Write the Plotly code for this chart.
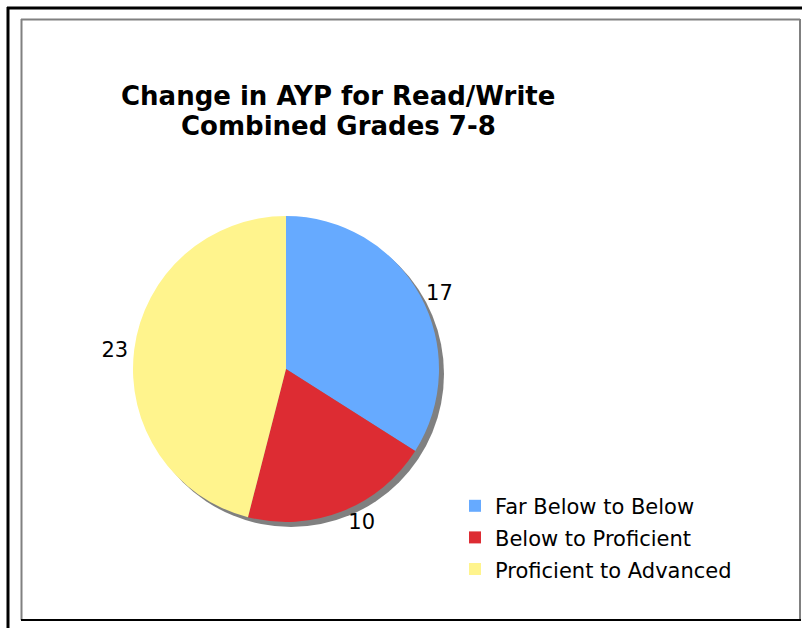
import plotly.graph_objects as go

categories = ["Far Below to Below", "Below to Proficient", "Proficient to Advanced"]
values = [17, 10, 23]
colors = ["#66aaff", "#dd2c33", "#fff48d"]
title_lines = ["Change in AYP for Read/Write", "Combined Grades 7-8"]

W, H = 802, 628
cx, cy, r = 286, 369, 153
sh = 5  # shadow offset

def dom(x0, y0, x1, y1):
    return dict(x=[x0 / W, x1 / W], y=[1 - y1 / H, 1 - y0 / H])

fig = go.Figure()
# shadow
fig.add_trace(go.Pie(
    values=[sum(values)], labels=["shadow"], marker=dict(colors=["#808080"], line=dict(width=0)),
    textinfo="none", hoverinfo="skip", showlegend=False, sort=False,
    domain=dom(cx - r + sh, cy - r + sh, cx + r + sh, cy + r + sh),
))
fig.add_trace(go.Pie(
    labels=[f"<span style='font-size:21px'>{c}</span>" for c in categories],
    values=values, sort=False, direction="clockwise", rotation=0,
    marker=dict(colors=colors, line=dict(width=0)),
    textinfo="value", textposition="outside",
    textfont=dict(family="DejaVu Sans", size=21, color="#000000"),
    domain=dom(cx - r, cy - r, cx + r, cy + r),
))

shapes = [
    # outer black frame (top and left)
    dict(type="line", xref="paper", yref="paper", x0=7 / W, x1=1, y0=1 - 8 / H, y1=1 - 8 / H,
         line=dict(color="#000000", width=3)),
    dict(type="line", xref="paper", yref="paper", x0=8 / W, x1=8 / W, y0=1 - 7 / H, y1=0,
         line=dict(color="#000000", width=3)),
    # inner box
    dict(type="line", xref="paper", yref="paper", x0=21 / W, x1=800 / W, y0=1 - 19.5 / H, y1=1 - 19.5 / H,
         line=dict(color="#808080", width=2)),
    dict(type="line", xref="paper", yref="paper", x0=21.5 / W, x1=21.5 / W, y0=1 - 19 / H, y1=1 - 620 / H,
         line=dict(color="#808080", width=2)),
    dict(type="line", xref="paper", yref="paper", x0=800 / W, x1=800 / W, y0=1 - 19 / H, y1=1 - 620 / H,
         line=dict(color="#808080", width=2)),
    dict(type="line", xref="paper", yref="paper", x0=21 / W, x1=801 / W, y0=1 - 620 / H, y1=1 - 620 / H,
         line=dict(color="#000000", width=2)),
]

title_y = [96, 126]
annotations = [
    dict(text=f"<b>{t}</b>", xref="paper", yref="paper", x=338 / W, y=1 - yy / H,
         xanchor="center", yanchor="middle", showarrow=False,
         font=dict(family="DejaVu Sans", size=26, color="#000000"))
    for t, yy in zip(title_lines, title_y)
]

fig.update_layout(
    width=W, height=H,
    margin=dict(l=0, r=0, t=0, b=0),
    paper_bgcolor="#ffffff", plot_bgcolor="#ffffff",
    font=dict(family="DejaVu Sans", color="#000000"),
    legend=dict(x=455 / W, xanchor="left", y=1 - 485 / H, yanchor="top",
                font=dict(family="DejaVu Sans", size=22, color="#000000"),
                itemwidth=30, bgcolor="rgba(0,0,0,0)"),
    shapes=shapes,
    annotations=annotations,
)

fig.write_html("out.html", config={"displayModeBar": False},
               post_script="document.body.style.margin='0';document.body.style.overflow='hidden';")
